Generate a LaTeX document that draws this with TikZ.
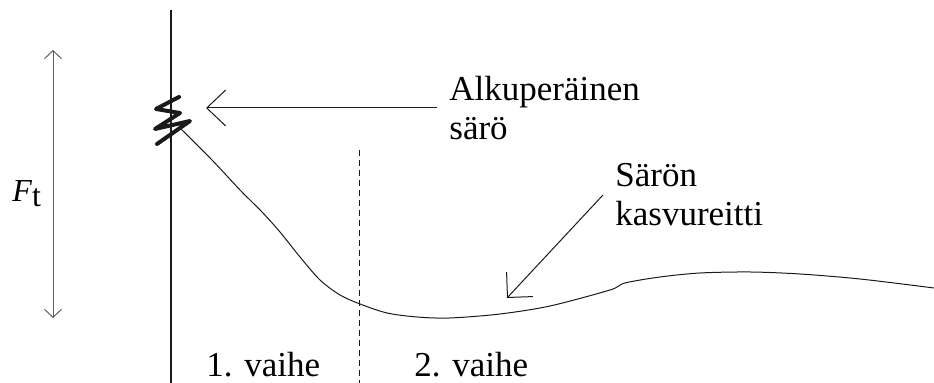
\documentclass[tikz,border=0pt]{standalone}
\usepackage{fontspec}
\setmainfont{Liberation Serif}
\usetikzlibrary{arrows.meta, positioning, calc}
\definecolor{inkline}{HTML}{1A1A1A}
\definecolor{inktext}{HTML}{000000}
\newcommand{\notetext}[3]{%
  \node[anchor=west, inner xsep=6pt, inner ysep=0pt, align=left, text=inktext,
        font=\fontsize{17.5}{19.5}\selectfont] (#1) at (#2) {#3};}
\newcommand{\phasetext}[3]{%
  \node[anchor=base west, inner sep=0pt, text=inktext,
        font=\fontsize{17.5}{19.5}\selectfont] (#1) at (#2) {#3};}

\begin{document}
\begin{tikzpicture}[x=0.5pt, y=-0.5pt]
      \useasboundingbox (0,0) rectangle (934,383);
      % axis and phase border
      \draw[inkline, line width=0.8pt] (171,10) -- (171,383);
      \draw[inkline, line width=0.5pt, dash pattern=on 3pt off 2pt] (359,150) -- (359,383);
      % force range
      \coordinate (ftop) at (53,50);
      \coordinate (fbot) at (53,318);
      \draw[{Straight Barb[length=4pt, width=8.5pt]}-{Straight Barb[length=4pt, width=8.5pt]},
            inkline!70, line width=0.5pt] (ftop) -- (fbot);
      \node[anchor=base west, inner sep=0pt, font=\fontsize{16}{18}\selectfont] (force)
            at (12,202) {\textit{F}\raisebox{-0.3ex}{t}};
      % original crack
      \draw[inkline, line width=2pt, line cap=round, line join=round]
            (179,97) -- (156,109) -- (180,113) -- (155,129) -- (190,121) -- (157,144);
      % crack path
      \draw[inkline, line width=0.5pt] plot[smooth, tension=0.5] coordinates {
            (180,128) (212,160) (240,190) (262,212) (280,232) (300,257) (320,280)
            (340,295) (360,304) (387,313) (417,317) (450,318) (500,314) (550,306)
            (610,290) (625,283) (660,277) (700,273) (750,272) (800,274) (860,279)
            (934,288)};
      \coordinate (crack) at (206,108);
      \coordinate (path) at (507,298);
      \notetext{orig}{437,108}{Alkuperäinen\\särö}
      \notetext{grow}{603,195}{Särön\\kasvureitti}
      \draw[-{Straight Barb[length=9.5pt, width=18pt]}, inkline, line width=0.5pt] (orig) -- (crack);
      \draw[-{Straight Barb[length=9pt, width=18pt]}, inkline, line width=0.5pt] (grow.west) -- (path);
      \phasetext{p1}{206,377}{1. vaihe}
      \phasetext{p2}{414,377}{2. vaihe}
    \end{tikzpicture}
\end{document}
